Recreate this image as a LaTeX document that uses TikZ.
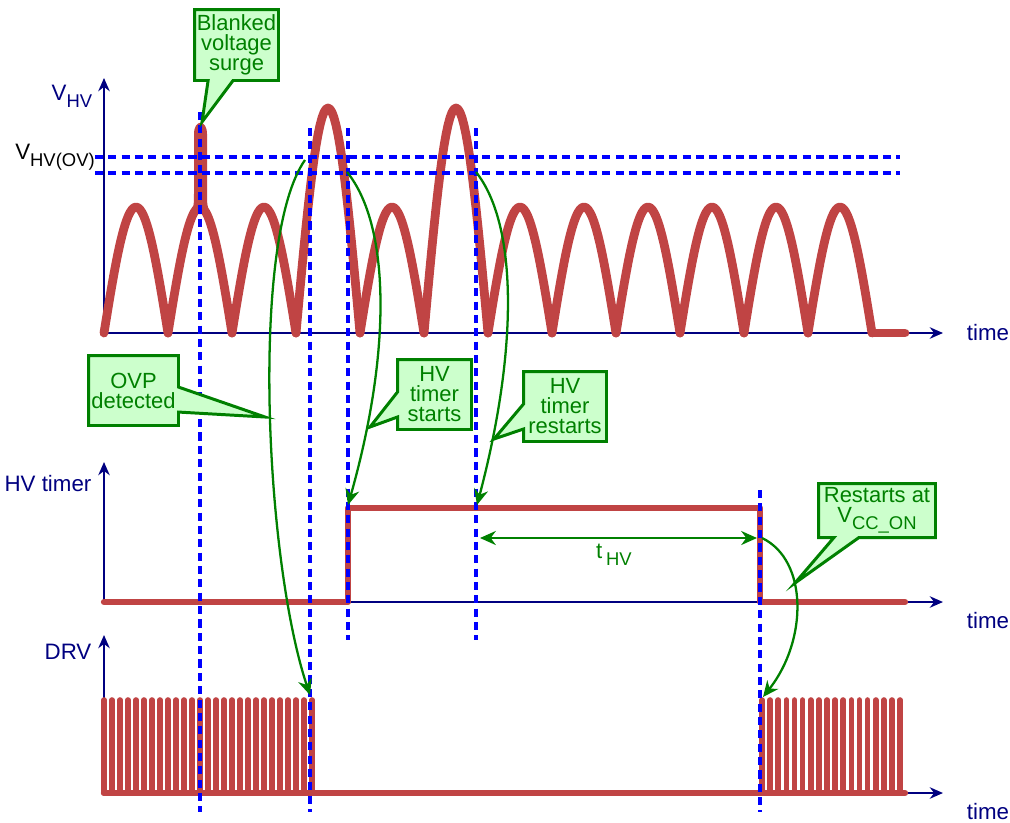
\documentclass[tikz,border=0pt]{standalone}
\usepackage{fontspec}
\setmainfont{Liberation Sans}
\usetikzlibrary{calc,shapes.callouts,arrows,arrows.meta}
\definecolor{sigred}{RGB}{192,68,68}
\definecolor{axisblue}{RGB}{0,0,128}
\definecolor{notegreen}{RGB}{0,128,0}
\definecolor{notefill}{RGB}{204,255,204}
\newcommand{\lowsub}[1]{\raisebox{-0.6ex}{\fontsize{10.5}{10.5}\selectfont #1}}
\tikzstyle{axis} = [axisblue, line width=1.6pt, -{Stealth[length=7.5pt,width=6.5pt]}]
\tikzstyle{signal} = [sigred, line width=5pt, line cap=round, line join=round]
\tikzstyle{pulse} = [sigred, line width=3.2pt, line cap=round]
\tikzstyle{marker} = [blue, line width=1.75pt, dash pattern=on 4.6pt off 3pt]
\tikzstyle{note} = [rectangle callout, draw=notegreen, fill=notefill, text=notegreen, line width=1.7pt, align=center, inner sep=1pt, callout pointer width=0.5cm, font=\fontsize{12.5}{11.4}\selectfont]
\tikzstyle{lbl} = [axisblue, font=\fontsize{12.7}{14}\selectfont]
\tikzstyle{link} = [notegreen, line width=1.3pt, -{Stealth[length=9pt,width=8pt]}]
\begin{document}
\begin{tikzpicture}[x=0.02cm, y=-0.02cm]
\useasboundingbox (0,0) rectangle (1010,822);
\draw [axis] (104,333) -- (943,333);
\draw [axis] (104,333) -- (104,78);
\draw [axis] (104,602) -- (943,602);
\draw [axis] (104,602) -- (104,462);
\draw [axis] (104,793) -- (943,793);
\draw [axis] (104,793) -- (104,635);
\node (vhv) [lbl] at (72,96) {V\lowsub{HV}};
\node (vov) [lbl, black] at (55,157) {V\lowsub{HV(OV)}};
\node (hvt) [lbl] at (48,484) {HV timer};
\node (drv) [lbl] at (68,652) {DRV};
\node (time1) [lbl] at (988,333) {time};
\node (time2) [lbl] at (988,621) {time};
\node (time3) [lbl] at (988,812) {time};
\foreach \a/\h in {104/126,168/126,232/126,296/225,360/126,424/225,488/126,552/126,616/126,680/126,744/126,808/126}
  \draw [signal] plot[domain=\a:\a+64, samples=33] (\x,{333-\h*abs(sin((\x-\a)*180/64))});
\draw [signal] (872,333) -- (905,333);
\fill [sigred] (191,214) .. controls (194,205) .. (194,190) -- (194,134) .. controls (194,119) and (207,119) .. (207,134) -- (207,190) .. controls (207,205) .. (210,214) -- cycle;
\draw [signal, line width=3.6pt] (104,602) -- (348,602) -- (348,508) -- (760,508) -- (760,602) -- (905,602);
\draw [signal, line width=3.6pt] (104,793) -- (905,793);
\foreach \i in {0,...,26} \draw [pulse] (104+8*\i,793) -- (104+8*\i,700);
\foreach \i in {0,...,17} \draw [pulse] (762+8.12*\i,793) -- (762+8.12*\i,700);
\draw [marker] (95,157) -- (900,157);
\draw [marker] (95,173) -- (900,173);
\draw [marker] (200,112) -- (200,812);
\draw [marker] (310,128) -- (310,812);
\draw [marker] (348,128) -- (348,640);
\draw [marker] (476,128) -- (476,640);
\draw [marker] (760,490) -- (760,812);
\coordinate (ovpfrom) at (305,160);
\coordinate (ovpto) at (310,695);
\coordinate (startfrom) at (347,172);
\coordinate (startto) at (348,505);
\coordinate (restartfrom) at (476,172);
\coordinate (restartto) at (477,505);
\coordinate (vccfrom) at (762,538);
\coordinate (vccto) at (763,697);
\coordinate (thvL) at (480,538);
\coordinate (thvR) at (757,538);
\draw [link] (ovpfrom) .. controls (250,238) and (265,560) .. (ovpto);
\draw [link] (startfrom) .. controls (390,225) and (392,350) .. (startto);
\draw [link] (restartfrom) .. controls (518,225) and (518,350) .. (restartto);
\draw [link] (vccfrom) .. controls (808,560) and (808,640) .. (vccto);
\draw [link, {Stealth[length=9pt,width=8pt]}-{Stealth[length=9pt,width=8pt]}] (thvL) -- (thvR);
\node (thv) [text=notegreen, font=\fontsize{12.7}{14}\selectfont] at (614,555) {t\,\lowsub{HV}};
\coordinate (surgetip) at (202,122);
\coordinate (ovptip) at (265,417);
\coordinate (starttip) at (370,427);
\coordinate (restarttip) at (494,439);
\coordinate (vcctip) at (795,583);
\node (surge) [note, minimum width=1.68cm, minimum height=1.42cm, callout absolute pointer={(surgetip)}] at (236.5,45) {Blanked\\voltage\\surge};
\node (ovp) [note, minimum width=1.8cm, minimum height=1.4cm, callout absolute pointer={(ovptip)}] at (133.5,390.5) {OVP\\detected};
\node (starts) [note, minimum width=1.48cm, minimum height=1.4cm, callout absolute pointer={(starttip)}] at (434.5,394.5) {HV\\timer\\starts};
\node (restarts) [note, minimum width=1.66cm, minimum height=1.4cm, callout absolute pointer={(restarttip)}] at (565,406.5) {HV\\timer\\restarts};
\node (vcc) [note, minimum width=2.34cm, minimum height=1.08cm, callout absolute pointer={(vcctip)}] at (877,510.5) {Restarts at\\V\lowsub{CC\_ON}};
\end{tikzpicture}
\end{document}
